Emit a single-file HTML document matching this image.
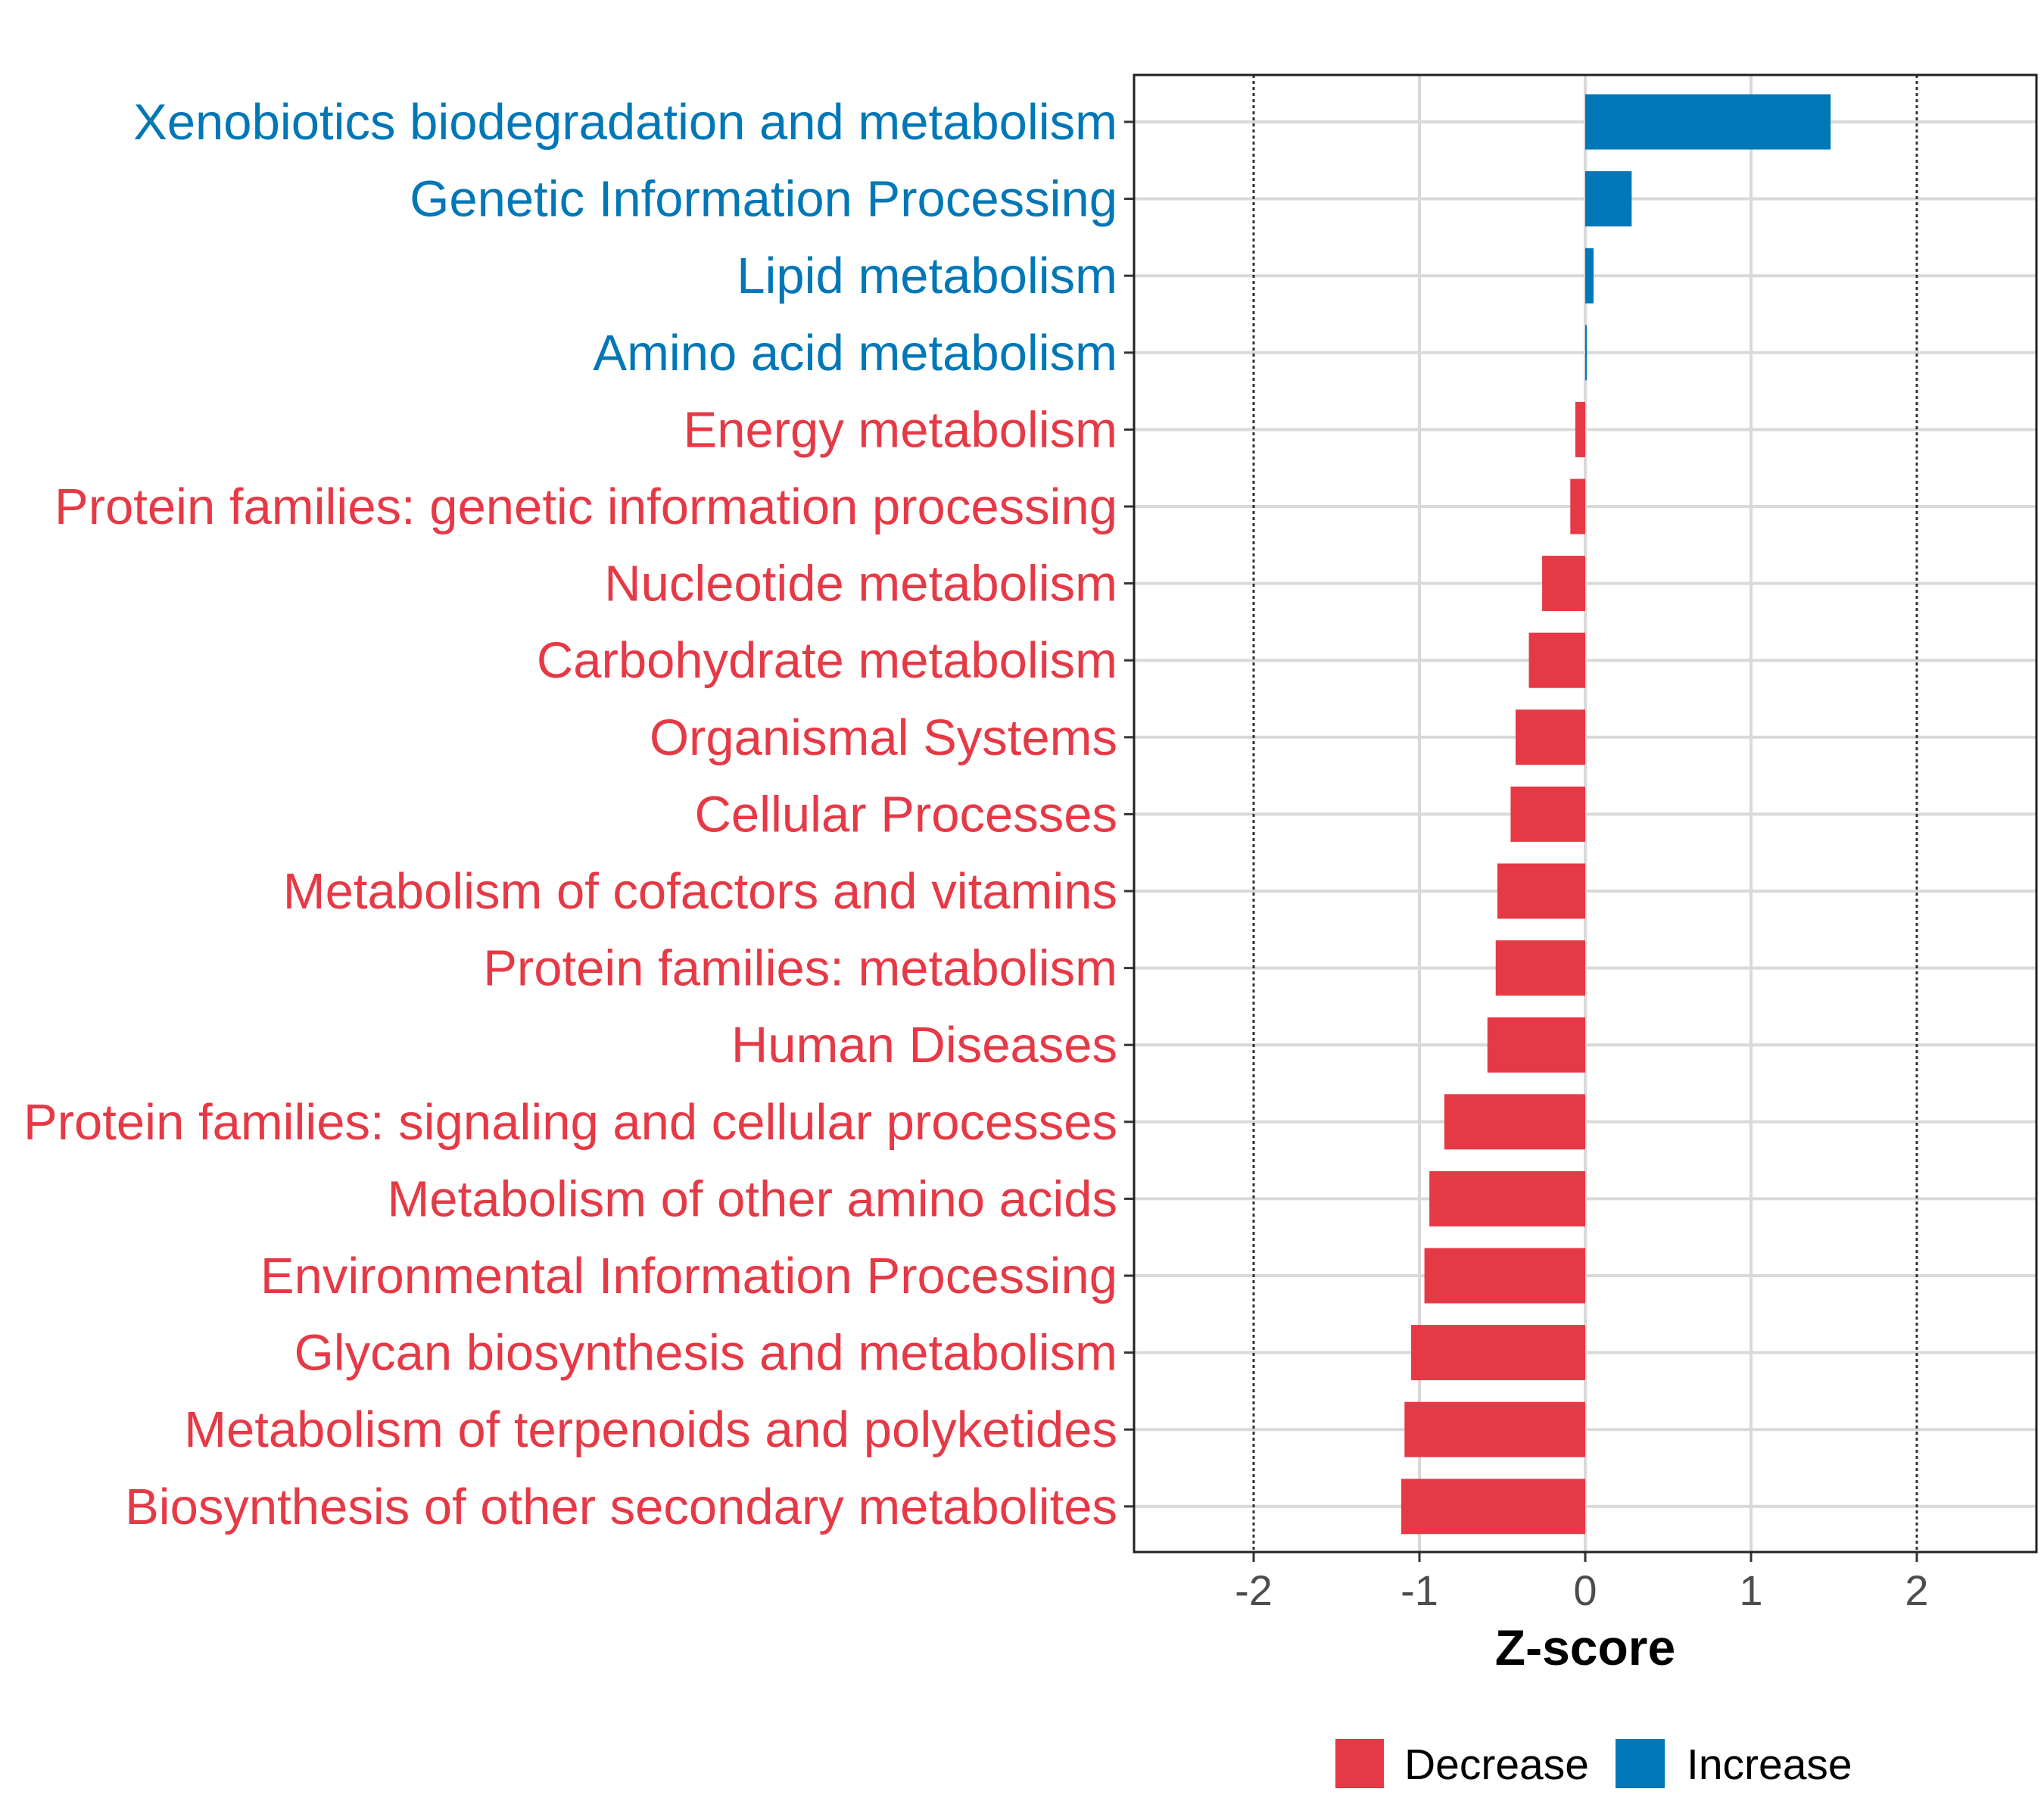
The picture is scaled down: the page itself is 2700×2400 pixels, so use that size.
<!DOCTYPE html>
<html><head><meta charset="utf-8">
<style>
html,body{margin:0;padding:0;background:#fff;}
svg{display:block;font-family:"Liberation Sans",Arial,sans-serif;}
</style></head>
<body>
<svg id="chart" width="2700" height="2400" viewBox="0 0 2700 2400" xmlns="http://www.w3.org/2000/svg">
<g id="grid"></g>
<g id="bars"></g>
<g id="ylabels"></g>
<g id="xaxis"></g>
<rect x="1498" y="99" width="1192" height="1951" fill="none" stroke="#222" stroke-width="3"/>
<text x="2094" y="2199" font-size="66" font-weight="bold" text-anchor="middle" fill="#000">Z-score</text>
<g>
<rect x="1764" y="2297" width="64" height="65" fill="#E63946"/>
<text x="1855" y="2350" font-size="57" fill="#000">Decrease</text>
<rect x="2134" y="2297" width="65" height="65" fill="#0077B6"/>
<text x="2228" y="2350" font-size="57" fill="#000">Increase</text>
</g>
</svg>
<script>
const categories = ["Xenobiotics biodegradation and metabolism","Genetic Information Processing","Lipid metabolism","Amino acid metabolism","Energy metabolism","Protein families: genetic information processing","Nucleotide metabolism","Carbohydrate metabolism","Organismal Systems","Cellular Processes","Metabolism of cofactors and vitamins","Protein families: metabolism","Human Diseases","Protein families: signaling and cellular processes","Metabolism of other amino acids","Environmental Information Processing","Glycan biosynthesis and metabolism","Metabolism of terpenoids and polyketides","Biosynthesis of other secondary metabolites"];
const zscores = [1.48,0.28,0.05,0.01,-0.06,-0.09,-0.26,-0.34,-0.42,-0.45,-0.53,-0.54,-0.59,-0.85,-0.94,-0.97,-1.05,-1.09,-1.11];
const xTicks = [-2,-1,0,1,2];
const xTickLabels = ["-2","-1","0","1","2"];
const NS="http://www.w3.org/2000/svg";
const x = v => 2094 + v*219;
const y = i => 161 + i*101.6;
const RED="#E63946", BLUE="#0077B6";
function mk(tag, attrs, parent){const e=document.createElementNS(NS,tag);for(const k in attrs)e.setAttribute(k,attrs[k]);parent.appendChild(e);return e;}
const grid=document.getElementById('grid'), bars=document.getElementById('bars'), yl=document.getElementById('ylabels'), xa=document.getElementById('xaxis');
categories.forEach((c,i)=>{
  const g=mk('line',{x1:1498,x2:2690,y1:y(i),y2:y(i),stroke:'#d9d9d9','stroke-width':4},grid);
  
  
});
xTicks.forEach((t,j)=>{
  const dashed = Math.abs(t)===2;
  const l=mk('line',{x1:x(t),x2:x(t),y1:99,y2:2050,stroke:dashed?'#333':'#d9d9d9','stroke-width':dashed?3:4,'stroke-dasharray':dashed?'4 4':'none'},grid);
  
  
  const tk=mk('line',{x1:x(t),x2:x(t),y1:2050,y2:2063,stroke:'#333','stroke-width':3},xa);
  
  
  const tl=mk('text',{x:x(t),y:2120,'font-size':56,'text-anchor':'middle',fill:'#4d4d4d'},xa);
  tl.textContent=xTickLabels[j];
  
  
});
categories.forEach((c,i)=>{
  const v=zscores[i], col=v>=0?BLUE:RED;
  const w=Math.max(Math.abs(x(v)-x(0)),2);
  const r=mk('rect',{x:v>=0?x(0):x(0)-w,y:y(i)-36.5,width:w,height:73,fill:col},bars);
  
  
  const tk=mk('line',{x1:1485,x2:1498,y1:y(i),y2:y(i),stroke:'#333','stroke-width':3},yl);
  
  
  const t=mk('text',{x:1476,y:y(i)+23,'font-size':67,'text-anchor':'end',fill:col},yl);
  t.textContent=c;
  
  
});
</script>
</body></html>
